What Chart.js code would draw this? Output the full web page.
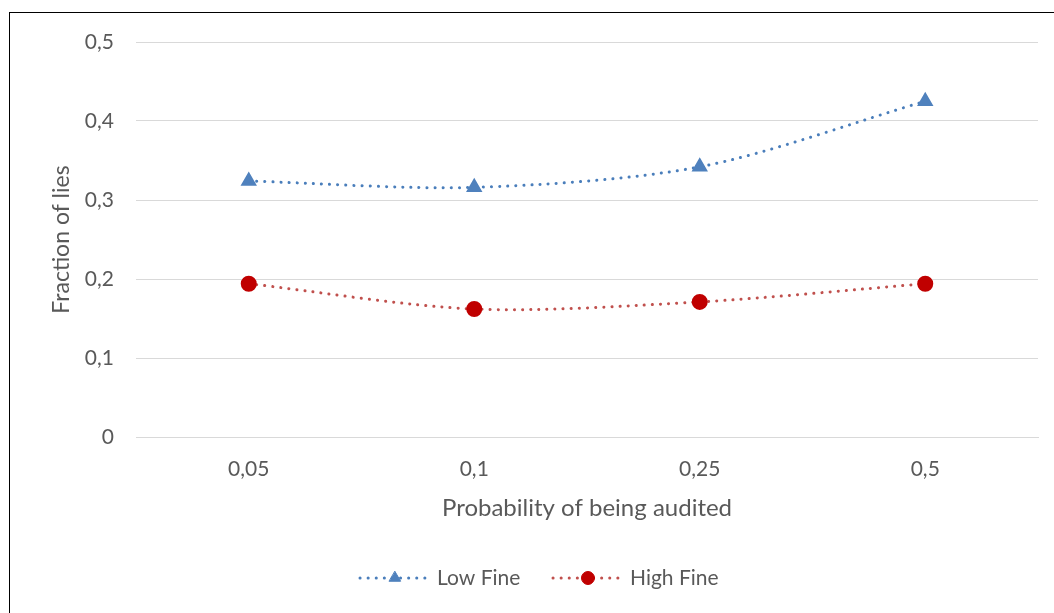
<!DOCTYPE html>
<html>
<head>
<meta charset="utf-8">
<script src="https://cdn.jsdelivr.net/npm/chart.js@4.4.0/dist/chart.umd.min.js"></script>
<style>
  html, body { margin: 0; padding: 0; background: #fff; overflow: hidden; }
  #wrap { position: relative; width: 1054px; height: 613px; }
  #frame { position: absolute; left: 9px; top: 12px; width: 1100px; height: 700px; border: 1.5px solid #000; box-sizing: border-box; }
  canvas { position: absolute; left: 0; top: 0; }
</style>
</head>
<body>
<div id="wrap">
  <div id="frame"></div>
  <canvas id="liesChart" width="1054" height="613"></canvas>
</div>
<script>
// data
const categories = ["0,05", "0,1", "0,25", "0,5"];
const lowFine = [0.324, 0.316, 0.342, 0.425];
const highFine = [0.194, 0.162, 0.171, 0.194];
const yTicks = [0, 0.1, 0.2, 0.3, 0.4, 0.5];

const textColor = "#595959";
const fontFamily = "Lato, 'Open Sans', sans-serif";

// legend drawn as in Excel: dotted line with the marker in the middle
const lineLegend = {
  id: "lineLegend",
  afterDraw(chart) {
    const ctx = chart.ctx;
    const y = 578;
    const items = [
      {x: 360, ds: chart.data.datasets[0]},
      {x: 553, ds: chart.data.datasets[1]}
    ];
    ctx.save();
    items.forEach(it => {
      ctx.strokeStyle = it.ds.borderColor;
      ctx.lineWidth = it.ds.borderWidth;
      ctx.setLineDash(it.ds.borderDash);
      ctx.lineCap = "round";
      ctx.beginPath();
      ctx.moveTo(it.x, y);
      ctx.lineTo(it.x + 70, y);
      ctx.stroke();
      ctx.setLineDash([]);
      ctx.fillStyle = it.ds.pointBackgroundColor;
      ctx.strokeStyle = it.ds.pointBorderColor;
      ctx.lineWidth = 1;
      Chart.helpers.drawPoint(ctx, {
        pointStyle: it.ds.pointStyle,
        radius: it.ds.pointRadius,
        borderWidth: 1
      }, it.x + 35, y);
      ctx.fillStyle = textColor;
      ctx.font = "21px " + fontFamily;
      ctx.textBaseline = "middle";
      ctx.textAlign = "left";
      ctx.fillText(it.ds.label, it.x + 77, y);
    });
    ctx.restore();
  }
};

new Chart("liesChart", {
  type: "line",
  data: {
    labels: categories,
    datasets: [{
      label: "Low Fine",
      data: lowFine,
      borderColor: "#4a7ebb",
      borderWidth: 3,
      borderDash: [0.1, 8],
      borderCapStyle: "round",
      pointStyle: "triangle",
      pointRadius: 6.5,
      pointBackgroundColor: "#4f81bd",
      pointBorderColor: "#4f81bd",
      tension: 0.3,
      fill: false
    }, {
      label: "High Fine",
      data: highFine,
      borderColor: "#c0504d",
      borderWidth: 3,
      borderDash: [0.1, 8],
      borderCapStyle: "round",
      pointStyle: "circle",
      pointRadius: 6.5,
      pointBackgroundColor: "#c00000",
      pointBorderColor: "#c00000",
      tension: 0.3,
      fill: false
    }]
  },
  options: {
    responsive: false,
    animation: false,
    layout: {padding: {top: 42, right: 16, bottom: 76, left: 0}},
    plugins: {
      legend: {display: false},
      tooltip: {enabled: false}
    },
    scales: {
      x: {
        offset: true,
        grid: {display: false, drawTicks: false, offset: true},
        border: {display: true, color: "#d9d9d9", width: 1},
        ticks: {color: textColor, font: {size: 21, family: fontFamily}, padding: 20},
        title: {display: true, text: "Probability of being audited", color: textColor,
                font: {size: 24, family: fontFamily}, padding: {top: 0, bottom: 14}},
        afterFit(scale) { scale.height = 100; }
      },
      y: {
        min: 0,
        max: 0.5,
        afterBuildTicks(scale) { scale.ticks = yTicks.map(v => ({value: v})); },
        grid: {color: "#d9d9d9", lineWidth: 1, drawTicks: false},
        border: {display: false},
        ticks: {
          color: textColor,
          font: {size: 21, family: fontFamily},
          padding: 22,
          callback: v => String(v).replace(".", ",")
        },
        title: {display: true, text: "Fraction of lies", color: textColor,
                font: {size: 23, family: fontFamily}, padding: {top: 48, bottom: 0}},
        afterFit(scale) { scale.width = 136; }
      }
    }
  },
  plugins: [lineLegend]
});
</script>
</body>
</html>
